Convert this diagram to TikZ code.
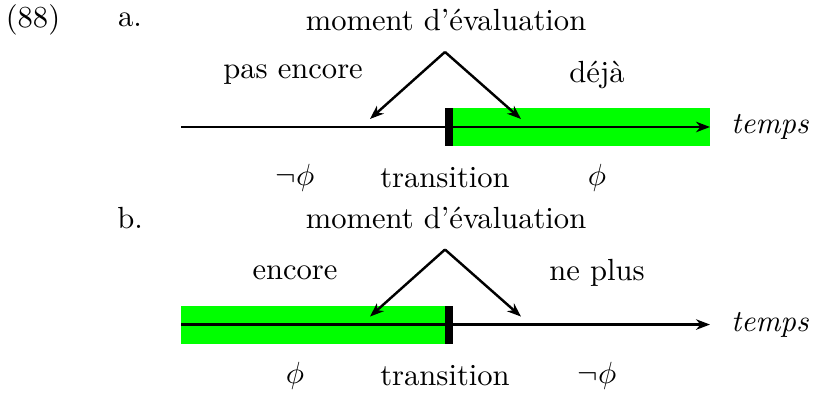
\documentclass[tikz,border=0pt]{standalone}
\usepackage{amsmath}
\usepackage{tikz}
\usetikzlibrary{arrows.meta}
\definecolor{phigreen}{RGB}{0,255,0}

\begin{document}
\begin{tikzpicture}[
        timeline/.style={-{Stealth[length=1.6mm, width=1.2mm, inset=0.5mm]}, thick},
        pointer/.style={-{Stealth[length=1.6mm, width=1.2mm, inset=0.5mm]}, thick},
        transbar/.style={line width=2.6pt},
        label/.style={inner sep=0pt}
      ]
      \useasboundingbox (0,0) rectangle (9.353,4.55);
      % (a) deja
      \node[label] (ex-num) at (0.379,4.320) {(88)};
      \node[label] (a-tag) at (1.494,4.320) {a.};
      \node[label] (a-moment) at (5.125,4.320) {moment d'évaluation};
      \fill[phigreen] (5.113,2.873) rectangle (8.158,3.309);
      \coordinate (a-start) at (2.080,3.091);
      \coordinate (a-end) at (8.158,3.091);
      \draw[timeline] (a-start) -- (a-end);
      \node[label] (a-temps) at (8.847,3.091) {\textit{temps}};
      \coordinate (a-bartop) at (5.159,3.309);
      \coordinate (a-barbot) at (5.159,2.873);
      \draw[transbar] (a-barbot) -- (a-bartop);
      \coordinate (a-apex) at (5.113,3.953);
      \coordinate (a-left) at (4.251,3.183);
      \coordinate (a-right) at (5.986,3.183);
      \draw[pointer] (a-apex) -- (a-left);
      \draw[pointer] (a-apex) -- (a-right);
      \node[label] (a-before) at (3.367,3.688) {pas encore};
      \node[label] (a-after) at (6.860,3.688) {déjà};
      \node[label] (a-notphi) at (3.390,2.505) {$\neg\phi$};
      \node[label] (a-trans) at (5.113,2.505) {transition};
      \node[label] (a-phi) at (6.860,2.505) {$\phi$};
      % (b) ne plus
      \node[label] (b-tag) at (1.494,2.050) {b.};
      \node[label] (b-moment) at (5.125,2.050) {moment d'évaluation};
      \fill[phigreen] (2.080,0.603) rectangle (5.159,1.039);
      \coordinate (b-start) at (2.080,0.821);
      \coordinate (b-end) at (8.158,0.821);
      \draw[timeline] (b-start) -- (b-end);
      \node[label] (b-temps) at (8.847,0.821) {\textit{temps}};
      \coordinate (b-bartop) at (5.159,1.039);
      \coordinate (b-barbot) at (5.159,0.603);
      \draw[transbar] (b-barbot) -- (b-bartop);
      \coordinate (b-apex) at (5.113,1.683);
      \coordinate (b-left) at (4.251,0.913);
      \coordinate (b-right) at (5.986,0.913);
      \draw[pointer] (b-apex) -- (b-left);
      \draw[pointer] (b-apex) -- (b-right);
      \node[label] (b-before) at (3.390,1.418) {encore};
      \node[label] (b-after) at (6.860,1.418) {ne plus};
      \node[label] (b-phi) at (3.390,0.235) {$\phi$};
      \node[label] (b-trans) at (5.113,0.235) {transition};
      \node[label] (b-notphi) at (6.860,0.235) {$\neg\phi$};
    \end{tikzpicture}
\end{document}
